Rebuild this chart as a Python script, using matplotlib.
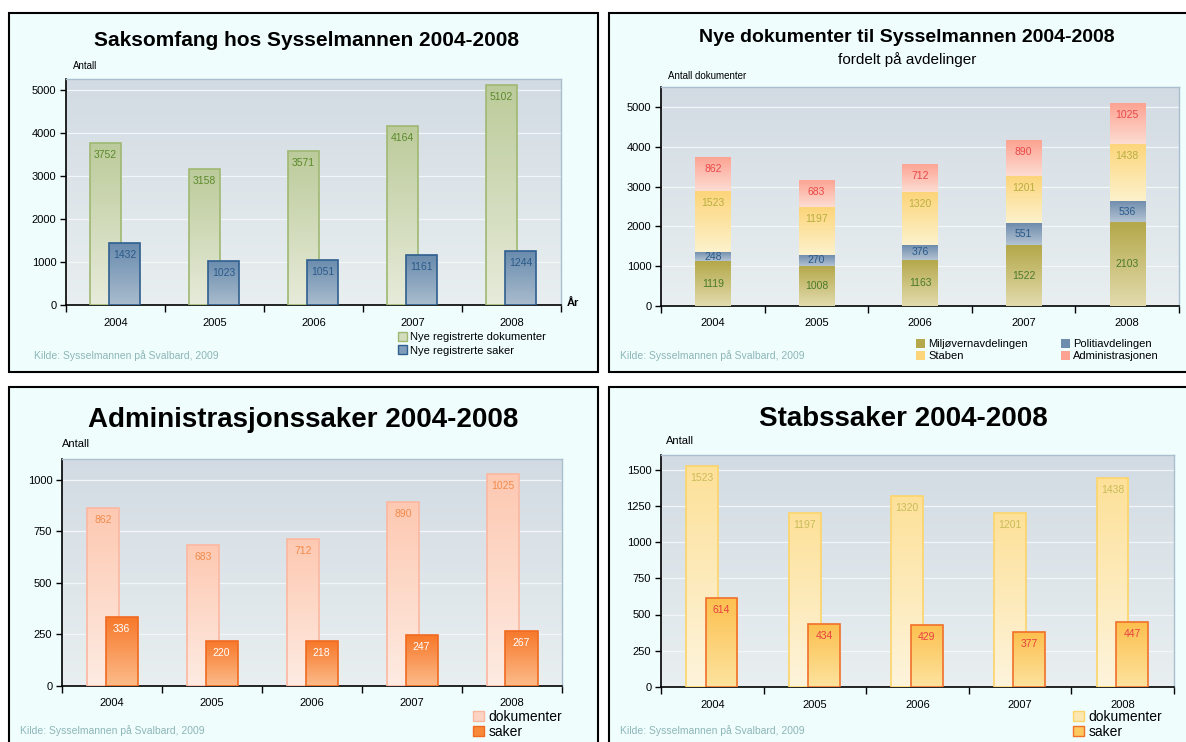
import matplotlib.pyplot as plt
import numpy as np
from matplotlib.colors import LinearSegmentedColormap
from matplotlib.patches import Rectangle, Patch

plt.rcParams['font.family'] = ['Liberation Sans', 'DejaVu Sans']

#################################################
# Data.
years = ['2004', '2005', '2006', '2007', '2008']

# Panel 1: all cases
dok_total = [3752, 3158, 3571, 4164, 5102]
saker_total = [1432, 1023, 1051, 1161, 1244]

# Panel 2: documents per department
miljo = [1119, 1008, 1163, 1522, 2103]
politi = [248, 270, 376, 551, 536]
staben = [1523, 1197, 1320, 1201, 1438]
admin = [862, 683, 712, 890, 1025]

# Panel 3 and 4: cases
admin_saker = [336, 220, 218, 247, 267]
staben_saker = [614, 434, 429, 377, 447]

source = 'Kilde: Sysselmannen på Svalbard, 2009'

#################################################
# Helpers.
W, H = 1186, 742
fig = plt.figure(figsize=(W / 100, H / 100), dpi=100)
fig.patch.set_facecolor('white')

grad = np.linspace(0, 1, 64).reshape(-1, 1)


def fx(x):
    return x / W


def fy(y):
    return 1 - y / H


def panel(x0, y0, x1, y1):
    fig.patches.append(Rectangle((fx(x0), fy(y1)), fx(x1 - x0), (y1 - y0) / H,
                                 transform=fig.transFigure, facecolor='#effdfd',
                                 edgecolor='black', linewidth=1.5, zorder=-5))


def make_axes(x0, y0, x1, y1, ymax, step):
    ax = fig.add_axes([fx(x0), fy(y1), fx(x1 - x0), (y1 - y0) / H])
    bg = LinearSegmentedColormap.from_list('bg', ['#e9eff0', '#d2dbe3'])
    ax.imshow(grad, extent=[0, 1, 0, 1], transform=ax.transAxes, origin='lower',
              aspect='auto', cmap=bg, zorder=0)
    ax.set_xlim(-0.5, 4.5)
    ax.set_ylim(0, ymax)
    ax.set_yticks(np.arange(0, ymax, step))
    ax.yaxis.grid(True, color='#f2f6f8', linewidth=0.9)
    ax.set_axisbelow(True)
    ax.set_xticks(np.arange(-0.5, 5, 1))
    ax.set_xticklabels([])
    ax.set_xticks(range(5), minor=True)
    ax.set_xticklabels(years, minor=True)
    ax.tick_params(axis='x', which='major', length=5, width=1, direction='out')
    ax.tick_params(axis='x', which='minor', length=0, pad=9, labelsize=8)
    ax.tick_params(axis='y', length=4, width=1, labelsize=8, pad=3)
    for s in ['left', 'bottom']:
        ax.spines[s].set_color('black')
        ax.spines[s].set_linewidth(1.2)
    for s in ['top', 'right']:
        ax.spines[s].set_color('#aabfce')
        ax.spines[s].set_linewidth(1.0)
    return ax


def shade(ax, bars, top, bottom, edge, z):
    cmap = LinearSegmentedColormap.from_list('g', [bottom, top])
    for b in bars:
        x, y, w, h = b.get_x(), b.get_y(), b.get_width(), b.get_height()
        im = ax.imshow(grad, extent=[x, x + w, y, y + h], origin='lower',
                       aspect='auto', cmap=cmap, zorder=z - 0.1)
        im.set_clip_path(b)
        b.set_facecolor('none')
        b.set_edgecolor(edge)
        b.set_zorder(z)


def labels(ax, bars, values, color, mode='top'):
    for b, v in zip(bars, values):
        xc = b.get_x() + b.get_width() / 2
        if mode == 'top':
            ax.annotate(str(v), (xc, b.get_y() + b.get_height()), xytext=(0, -12),
                        textcoords='offset pixels', ha='center', va='center',
                        fontsize=7.5, color=color, zorder=10)
        else:
            ax.text(xc, b.get_y() + b.get_height() / 2, str(v), ha='center',
                    va='center', fontsize=7.5, color=color, zorder=10)


def finish(ax, ymax):
    ax.set_xlim(-0.5, 4.5)
    ax.set_ylim(0, ymax)


x = np.arange(len(years))

#################################################
# Panel 1.
panel(9, 13, 598, 372)
ax1 = make_axes(66, 79, 561, 305, 5250, 1000)
b1 = ax1.bar(x - 0.1, dok_total, width=0.31, linewidth=1.2)
shade(ax1, b1, '#bccb9b', '#e7ebda', '#9fb872', 3)
b2 = ax1.bar(x + 0.09, saker_total, width=0.31, linewidth=1.2)
shade(ax1, b2, '#6a8cae', '#a9bccd', '#2f5f8f', 5)
labels(ax1, b1, dok_total, '#5a8a2a')
labels(ax1, b2, saker_total, '#2a5a8a')
finish(ax1, 5250)
fig.text(fx(73), fy(66), 'Antall', fontsize=7, va='center')
fig.text(fx(307), fy(40), 'Saksomfang hos Sysselmannen 2004-2008', fontsize=15,
         fontweight='bold', ha='center', va='center')
fig.text(fx(567), fy(303), 'År', fontsize=8, fontweight='bold', va='center')
fig.text(fx(34), fy(356), source, fontsize=7.5, color='#8db6b8', va='center')
fig.legend([Patch(facecolor='#d3dcbd', edgecolor='#9fb872'),
            Patch(facecolor='#7f9cba', edgecolor='#2f5f8f')],
           ['Nye registrerte dokumenter', 'Nye registrerte saker'],
           loc='upper left', bbox_to_anchor=(fx(398), fy(332)), frameon=False,
           fontsize=8, handlelength=0.8, handleheight=0.8, handletextpad=0.3,
           labelspacing=0.3, borderpad=0, borderaxespad=0)

#################################################
# Panel 2.
panel(609, 13, 1192, 372)
ax2 = make_axes(661, 87, 1179, 306, 5500, 1000)
bottom = np.zeros(len(years))
stack = [
    (miljo, '#b4a84a', '#e2dbad', '#4a7a2a', 'center', 'Miljøvernavdelingen'),
    (politi, '#6f8cad', '#b3c3d2', '#2a5a8a', 'center', 'Politiavdelingen'),
    (staben, '#fcd57a', '#fdf2cc', '#b8ae40', 'top', 'Staben'),
    (admin, '#fca392', '#fddcd2', '#e84848', 'top', 'Administrasjonen'),
]
handles = {}
for vals, top, bot, tc, mode, name in stack:
    bb = ax2.bar(x, vals, bottom=bottom, width=0.34, linewidth=0)
    shade(ax2, bb, top, bot, 'none', 3)
    labels(ax2, bb, vals, tc, mode)
    bottom += np.array(vals)
    handles[name] = Patch(facecolor=top, edgecolor='none')
finish(ax2, 5500)
fig.text(fx(668), fy(76), 'Antall dokumenter', fontsize=7, va='center')
fig.text(fx(907), fy(37), 'Nye dokumenter til Sysselmannen 2004-2008', fontsize=14,
         fontweight='bold', ha='center', va='center')
fig.text(fx(907), fy(60), 'fordelt på avdelinger', fontsize=11, ha='center',
         va='center')
fig.text(fx(620), fy(356), source, fontsize=7.5, color='#8db6b8', va='center')
order = ['Miljøvernavdelingen', 'Staben', 'Politiavdelingen', 'Administrasjonen']
fig.legend([handles[n] for n in order], order, ncol=2, loc='upper left',
           bbox_to_anchor=(fx(916), fy(339)), frameon=False, fontsize=8,
           handlelength=0.8, handleheight=0.8, handletextpad=0.3,
           labelspacing=0.2, columnspacing=3.0, borderpad=0, borderaxespad=0)

#################################################
# Panel 3.
panel(9, 387, 598, 745)
ax3 = make_axes(62, 459, 562, 686, 1100, 250)
b1 = ax3.bar(x - 0.09, admin, width=0.32, linewidth=1.2)
shade(ax3, b1, '#fdc9b2', '#feebe2', '#fcb7a0', 3)
b2 = ax3.bar(x + 0.095, admin_saker, width=0.32, linewidth=1.2)
shade(ax3, b2, '#f7782a', '#fcbb8a', '#f06a20', 5)
labels(ax3, b1, admin, '#f28a4a')
labels(ax3, b2, admin_saker, 'white')
finish(ax3, 1100)
fig.text(fx(62), fy(444), 'Antall', fontsize=8, va='center')
fig.text(fx(303), fy(420), 'Administrasjonssaker 2004-2008', fontsize=20,
         fontweight='bold', ha='center', va='center')
fig.text(fx(20), fy(731), source, fontsize=7.5, color='#8db6b8', va='center')
fig.legend([Patch(facecolor='#fdd4c4', edgecolor='#fcb7a0'),
            Patch(facecolor='#f8883a', edgecolor='#f06a20')],
           ['dokumenter', 'saker'], loc='upper left',
           bbox_to_anchor=(fx(473), fy(710)), frameon=False, fontsize=10,
           handlelength=0.8, handleheight=0.8, handletextpad=0.3,
           labelspacing=0.05, borderpad=0, borderaxespad=0)

#################################################
# Panel 4.
panel(609, 387, 1192, 745)
ax4 = make_axes(661, 455, 1174, 687, 1600, 250)
b1 = ax4.bar(x - 0.1, staben, width=0.31, linewidth=1.2)
shade(ax4, b1, '#fde199', '#fef4dc', '#fcd469', 3)
b2 = ax4.bar(x + 0.09, staben_saker, width=0.31, linewidth=1.2)
shade(ax4, b2, '#fcc04f', '#fde39e', '#f0702a', 5)
labels(ax4, b1, staben, '#c8bc58')
labels(ax4, b2, staben_saker, '#e84040')
finish(ax4, 1600)
fig.text(fx(666), fy(441), 'Antall', fontsize=8, va='center')
fig.text(fx(903), fy(419), 'Stabssaker 2004-2008', fontsize=20,
         fontweight='bold', ha='center', va='center')
fig.text(fx(620), fy(731), source, fontsize=7.5, color='#8db6b8', va='center')
fig.legend([Patch(facecolor='#fde7b0', edgecolor='#fcd469'),
            Patch(facecolor='#fcc860', edgecolor='#f0702a')],
           ['dokumenter', 'saker'], loc='upper left',
           bbox_to_anchor=(fx(1073), fy(710)), frameon=False, fontsize=10,
           handlelength=0.8, handleheight=0.8, handletextpad=0.3,
           labelspacing=0.05, borderpad=0, borderaxespad=0)

fig.savefig('out.png', dpi=100)
